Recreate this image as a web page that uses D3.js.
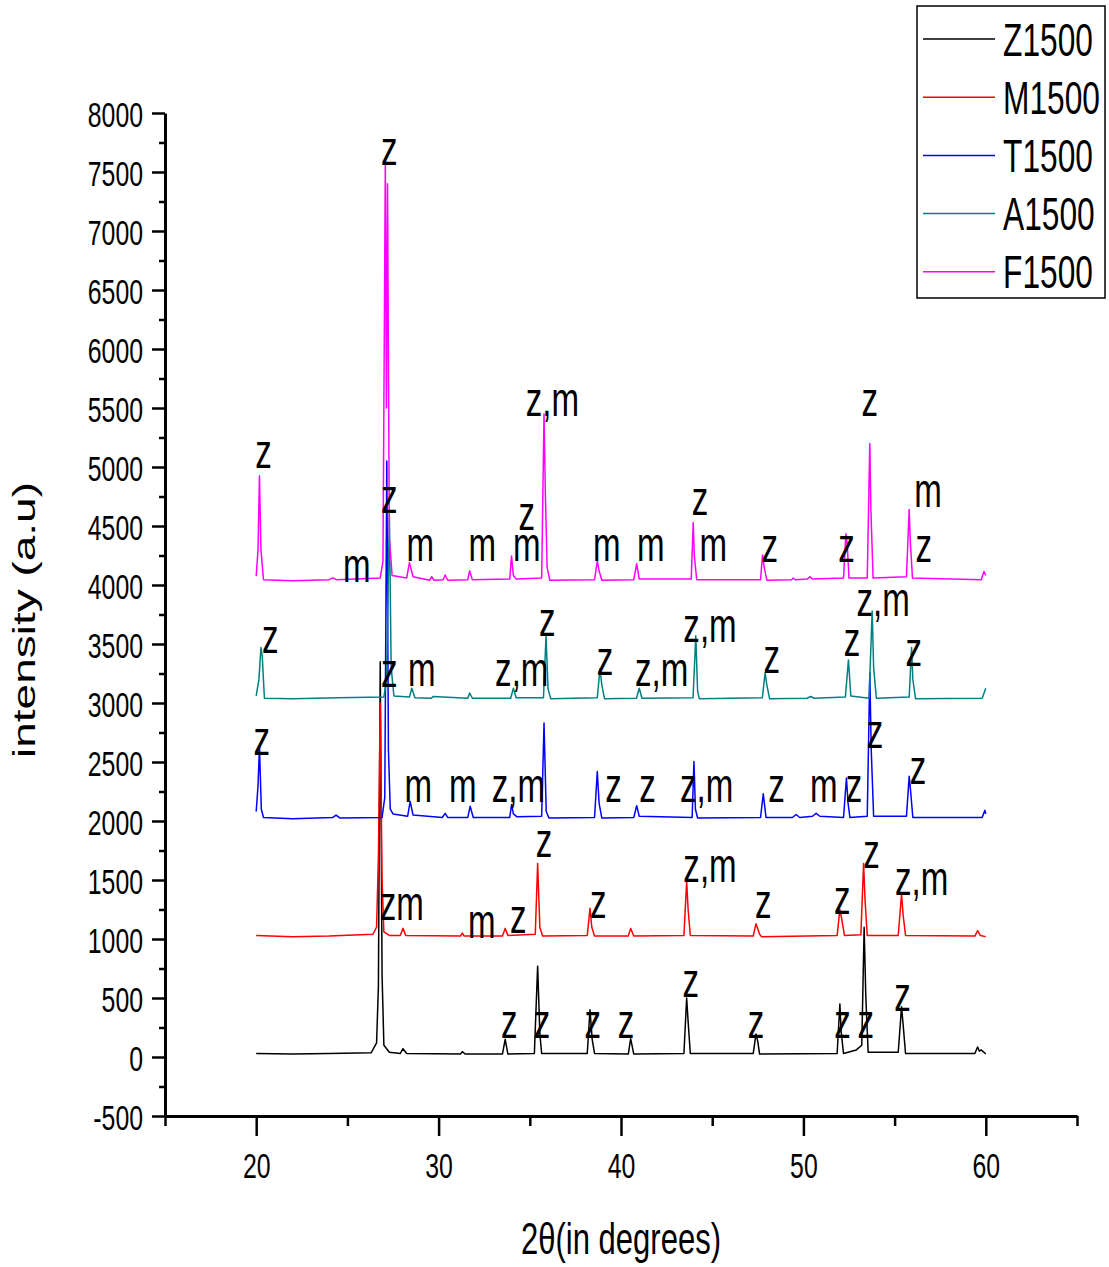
<!DOCTYPE html>
<html>
<head>
<meta charset="utf-8">
<script src="https://cdn.jsdelivr.net/npm/d3@7"></script>
<style>
  body { margin: 0; background: #fff; }
  svg text { font-family: "Liberation Sans", Arial, sans-serif; fill: #000; }
</style>
</head>
<body>
<svg width="1109" height="1267"></svg>
<script>
// XRD patterns, 2theta vs intensity, each series offset by its own baseline
var seriesNames = ['Z1500', 'M1500', 'T1500', 'A1500', 'F1500'];
var seriesColors = ['#000000', '#ff0000', '#0000ff', '#008080', '#ff00ff'];

var z1500 = [[20.0,30],[22,25],[24,30],[26.3,35],[26.6,120],[26.7,600],[26.8,3350],[26.9,700],[27.0,100],[27.3,40],
  [27.9,30],[28.05,70],[28.25,30],[31.2,25],[31.3,45],[31.45,25],[33.5,25],[33.65,150],[33.8,25],[35.25,30],
  [35.43,770],[35.55,200],[35.65,30],[38.15,30],[38.3,400],[38.42,150],[38.55,30],[40.4,25],[40.53,155],[40.7,25],
  [43.45,30],[43.6,500],[43.68,300],[43.8,30],[47.25,30],[47.4,195],[47.5,130],[47.6,25],[51.85,30],[52.0,450],
  [52.07,215],[52.2,30],[52.9,60],[53.2,100],[53.33,1100],[53.42,520],[53.55,40],[55.2,40],[55.38,425],[55.47,270],
  [55.6,30],[59.4,30],[59.55,85],[59.65,50],[59.75,60],[60.0,25]];

var m1500 = [[20.0,1030],[22,1020],[24,1025],[26.4,1040],[26.6,1100],[26.7,1700],[26.8,3000],[26.9,1500],[27.0,1060],
  [27.3,1030],[27.9,1030],[28.05,1090],[28.2,1030],[31.2,1025],[31.3,1050],[31.4,1025],[33.5,1025],[33.65,1090],
  [33.8,1030],[35.3,1040],[35.43,1640],[35.55,1100],[35.7,1025],[38.15,1030],[38.3,1260],[38.4,1100],[38.55,1025],
  [40.4,1025],[40.53,1090],[40.7,1025],[43.45,1030],[43.6,1490],[43.68,1250],[43.8,1030],[47.25,1025],[47.4,1130],
  [47.6,1040],[47.7,1020],[51.85,1030],[52.0,1250],[52.1,1170],[52.25,1030],[53.15,1035],[53.3,1640],[53.38,1330],
  [53.5,1030],[55.2,1030],[55.38,1380],[55.47,1200],[55.6,1030],[59.4,1025],[59.55,1070],[59.7,1030],[60.0,1020]];

var t1500 = [[20.0,2080],[20.1,2300],[20.18,2630],[20.28,2100],[20.4,2030],[22,2020],[24.2,2030],[24.38,2050],
  [24.6,2025],[26.9,2030],[27.05,2200],[27.16,5050],[27.25,2600],[27.35,2100],[27.5,2060],[28.3,2040],[28.44,2165],
  [28.6,2050],[30.2,2030],[30.36,2065],[30.5,2030],[31.6,2030],[31.73,2125],[31.9,2030],[33.9,2030],[34.0,2140],
  [34.1,2060],[34.3,2035],[35.65,2040],[35.78,2830],[35.9,2080],[36.05,2025],[38.55,2030],[38.7,2420],[38.8,2150],
  [38.95,2025],[40.7,2030],[40.86,2130],[41.0,2040],[43.9,2030],[44.0,2505],[44.08,2100],[44.2,2025],[47.65,2030],
  [47.8,2230],[47.95,2030],[49.4,2030],[49.6,2055],[49.8,2030],[50.5,2040],[50.7,2065],[50.9,2040],[52.2,2030],
  [52.36,2365],[52.45,2150],[52.55,2030],[53.5,2040],[53.64,3255],[53.72,2600],[53.85,2040],[55.65,2040],[55.8,2380],
  [55.88,2250],[56.0,2030],[59.8,2030],[59.95,2090],[60.0,2060]];

var a1500 = [[20.0,3060],[20.15,3200],[20.26,3470],[20.33,3400],[20.45,3040],[22,3035],[24.5,3045],[27.0,3050],
  [27.15,3200],[27.3,4600],[27.4,3300],[27.55,3060],[28.4,3050],[28.53,3125],[28.7,3045],[29.6,3040],[29.7,3055],
  [31.6,3040],[31.7,3085],[31.85,3040],[33.95,3040],[34.1,3125],[34.25,3045],[35.75,3045],[35.89,3570],[36.0,3120],
  [36.15,3035],[38.7,3045],[38.85,3290],[38.95,3150],[39.1,3035],[40.85,3040],[41.0,3125],[41.15,3040],[43.95,3045],
  [44.1,3570],[44.2,3100],[44.3,3035],[47.75,3045],[47.9,3255],[48.0,3150],[48.15,3035],[50.2,3040],[50.4,3055],
  [50.6,3040],[52.3,3050],[52.47,3365],[52.6,3060],[53.6,3040],[53.77,3780],[53.85,3300],[54.0,3040],[55.8,3050],
  [55.93,3470],[56.0,3200],[56.15,3035],[59.8,3040],[60.0,3125]];

var f1500 = [[20.0,4075],[20.1,4300],[20.18,4925],[20.26,4300],[20.4,4045],[22,4035],[24.0,4045],[24.2,4060],
  [24.4,4045],[26.8,4060],[26.95,4200],[27.08,7600],[27.14,5500],[27.2,7400],[27.3,4400],[27.45,4080],[28.25,4060],
  [28.4,4190],[28.6,4070],[29.5,4040],[29.62,4070],[29.75,4040],[30.25,4045],[30.36,4085],[30.5,4040],[31.6,4045],
  [31.7,4120],[31.85,4045],[33.9,4050],[34.0,4245],[34.1,4080],[34.25,4050],[35.65,4060],[35.78,5450],[35.85,4800],
  [35.95,4150],[36.1,4040],[38.55,4045],[38.7,4205],[38.8,4120],[38.95,4040],[40.7,4045],[40.86,4180],[41.0,4050],
  [43.85,4050],[43.96,4530],[44.02,4250],[44.15,4045],[47.65,4045],[47.76,4255],[47.85,4150],[48.0,4040],[49.35,4045],
  [49.45,4060],[49.55,4045],[50.2,4050],[50.36,4070],[50.5,4050],[52.2,4060],[52.33,4435],[52.4,4350],[52.5,4060],
  [53.5,4060],[53.64,5200],[53.7,4640],[53.82,4060],[55.65,4070],[55.8,4640],[55.86,4370],[55.98,4060],[59.75,4045],
  [59.9,4115],[60.0,4080]];

var allSeries = [z1500, m1500, t1500, a1500, f1500];

// phase labels: [text, 2theta, intensity at text baseline]
var peakLabels = [
  ['z',20.40,4990],['m',25.52,4028],['z',27.29,4614],['m',28.99,4203],['m',32.40,4203],['z',34.83,4470],
  ['m',34.83,4203],['z,m',36.24,5435],['m',39.22,4203],['m',41.64,4203],['z',44.33,4590],['m',45.06,4203],
  ['z',48.16,4195],['z',52.37,4195],['z',53.64,5429],['m',56.84,4662],['z',56.60,4195],['z',27.29,7558],
  ['z',20.77,3425],['z',27.30,3133],['m',29.08,3142],['z,m',34.56,3142],['z',35.96,3567],['z',39.12,3241],
  ['z,m',42.23,3142],['z,m',44.88,3518],['z',48.26,3255],['z',52.67,3397],['z,m',54.37,3736],['z',56.05,3312],
  ['z',20.31,2556],['m',28.89,2165],['m',31.33,2165],['z,m',34.37,2165],['z',39.59,2165],['z',41.46,2165],
  ['z,m',44.70,2165],['z',48.53,2165],['m',51.12,2165],['z',52.77,2165],['z',53.92,2618],['z',56.29,2312],
  ['zm',27.98,1161],['m',32.37,1005],['z',34.37,1047],['z',35.78,1698],['z',38.76,1175],['z,m',44.88,1480],
  ['z',47.80,1180],['z',52.13,1212],['z',53.74,1599],['z,m',56.48,1373],
  ['z',33.88,161],['z',35.67,161],['z',38.45,161],['z',40.27,161],['z',43.82,510],['z',47.40,161],
  ['z',52.14,161],['z',53.42,161],['z',55.44,388]
];

var xMajor = [20, 30, 40, 50, 60];
var xMinor = [15, 25, 35, 45, 55, 65];
var yMajor = d3.range(-500, 8001, 500);
var yMinor = d3.range(-250, 8000, 500);

var squeeze = 0.69;
var svg = d3.select('svg');

var x = d3.scaleLinear().domain([15, 65]).range([165, 1077]);
var y = d3.scaleLinear().domain([-500, 8000]).range([1116, 113]);

// minor ticks
svg.append('g')
  .attr('transform', 'translate(165,0)')
  .call(d3.axisLeft(y).tickValues(yMinor).tickSize(6).tickSizeOuter(0).tickFormat(''))
  .call(function(g) { g.select('.domain').remove(); })
  .selectAll('line').attr('stroke-width', 2.5);

svg.append('g')
  .attr('transform', 'translate(0,1116)')
  .call(d3.axisBottom(x).tickValues(xMinor).tickSize(10).tickSizeOuter(0).tickFormat(''))
  .call(function(g) { g.select('.domain').remove(); })
  .selectAll('line').attr('stroke-width', 2.5);

// major ticks + labels
var yAxis = svg.append('g')
  .attr('transform', 'translate(165,0)')
  .call(d3.axisLeft(y).tickValues(yMajor).tickSize(13).tickSizeOuter(0)
    .tickFormat(function(d) { return String(d); }));
yAxis.select('.domain').attr('stroke-width', 3);
yAxis.selectAll('line').attr('stroke-width', 2.5);
yAxis.selectAll('text')
  .attr('x', null).attr('dy', null)
  .attr('font-size', 36)
  .attr('font-family', '"Liberation Sans", Arial, sans-serif')
  .attr('text-anchor', 'end')
  .attr('transform', 'translate(-22,13) scale(' + squeeze + ',1)');

var xAxis = svg.append('g')
  .attr('transform', 'translate(0,1116)')
  .call(d3.axisBottom(x).tickValues(xMajor).tickSize(20).tickSizeOuter(0)
    .tickFormat(function(d) { return String(d); }));
xAxis.select('.domain').attr('stroke-width', 3);
xAxis.selectAll('line').attr('stroke-width', 2.5);
xAxis.selectAll('text')
  .attr('y', null).attr('dy', null)
  .attr('font-size', 36)
  .attr('font-family', '"Liberation Sans", Arial, sans-serif')
  .attr('text-anchor', 'middle')
  .attr('transform', 'translate(0,62) scale(' + squeeze + ',1)');

// axis titles
svg.append('text')
  .attr('transform', 'translate(621,1254) scale(' + squeeze + ',1)')
  .attr('text-anchor', 'middle')
  .attr('font-size', 45)
  .text('2θ(in degrees)');

svg.append('text')
  .attr('transform', 'translate(35,620) scale(' + squeeze + ',1) rotate(-90)')
  .attr('text-anchor', 'middle')
  .attr('font-size', 46)
  .text('intensity (a.u)');

// spectra
var line = d3.line()
  .x(function(d) { return x(d[0]); })
  .y(function(d) { return y(d[1]); });

svg.selectAll('path.spec')
  .data(allSeries)
  .enter().append('path')
  .attr('class', 'spec')
  .attr('fill', 'none')
  .attr('stroke', function(d, i) { return seriesColors[i]; })
  .attr('stroke-width', 1.5)
  .attr('stroke-linejoin', 'round')
  .attr('d', line);

// peak labels
svg.selectAll('text.lbl')
  .data(peakLabels)
  .enter().append('text')
  .attr('class', 'lbl')
  .attr('text-anchor', 'middle')
  .attr('font-size', 48)
  .attr('transform', function(d) {
    return 'translate(' + x(d[1]) + ',' + y(d[2]) + ') scale(' + squeeze + ',1)';
  })
  .text(function(d) { return d[0]; });

// legend
var legend = svg.append('g');
legend.append('rect')
  .attr('x', 917).attr('y', 6).attr('width', 188).attr('height', 292)
  .attr('fill', '#fff').attr('stroke', '#000').attr('stroke-width', 1.5);

var items = legend.selectAll('g.item')
  .data(seriesNames)
  .enter().append('g')
  .attr('class', 'item')
  .attr('transform', function(d, i) { return 'translate(0,' + (39 + i * 58.2) + ')'; });

items.append('line')
  .attr('x1', 923).attr('x2', 995)
  .attr('stroke', function(d, i) { return seriesColors[i]; })
  .attr('stroke-width', 1.5);

items.append('text')
  .attr('transform', 'translate(1003,16.5) scale(' + squeeze + ',1)')
  .attr('font-size', 46)
  .text(function(d) { return d; });
</script>
</body>
</html>
